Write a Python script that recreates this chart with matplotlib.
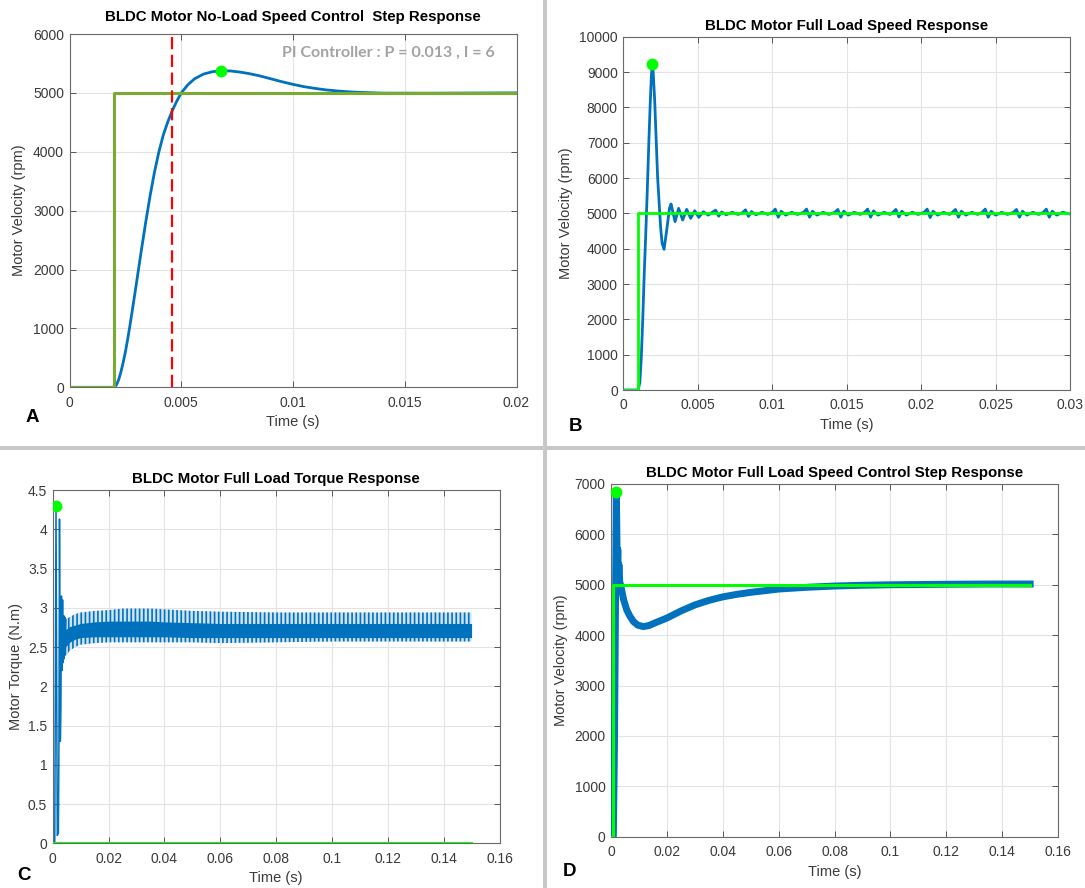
import matplotlib
matplotlib.use("Agg")
import matplotlib.pyplot as plt
from matplotlib.patches import Rectangle

plt.rcParams['font.family'] = ['Liberation Sans', 'DejaVu Sans']
plt.rcParams['hatch.linewidth'] = 1.2

# ---------------- data ----------------
# Panel A : no-load step response
ref_a_t = [0.0, 0.0020, 0.0020, 0.0200]
ref_a_v = [0, 0, 5000, 5000]
resp_a_t = [0.0, 0.0020, 0.0021, 0.0022, 0.0023, 0.0024, 0.0025, 0.0026, 0.0027, 0.0028,
            0.0030, 0.0032, 0.0034, 0.0036, 0.0038, 0.0040, 0.0042, 0.0044, 0.0046, 0.0048,
            0.0050, 0.0053, 0.0056, 0.0060, 0.0064, 0.0068, 0.0072, 0.0076, 0.0080, 0.0085,
            0.0090, 0.0095, 0.0100, 0.0105, 0.0110, 0.0115, 0.0120, 0.0125, 0.0130, 0.0140,
            0.0160, 0.0200]
resp_a_v = [0, 0, 40, 130, 260, 420, 600, 810, 1040, 1280,
            1780, 2290, 2780, 3240, 3650, 4000, 4290, 4510, 4700, 4860,
            5000, 5140, 5240, 5320, 5360, 5377, 5372, 5355, 5330, 5290,
            5240, 5190, 5145, 5105, 5075, 5050, 5032, 5018, 5008, 4996,
            4995, 5000]
peak_a = (0.0068, 5377)
rise_a_t = 0.00457
note_a = "PI Controller : P = 0.013 , I = 6"

# Panel B : full-load speed response
ref_b_t = [0.0, 0.001, 0.001, 0.030]
ref_b_v = [0, 0, 5000, 5000]
resp_b_t = [0.0, 0.00098, 0.0011, 0.0012, 0.0013, 0.0014, 0.0015, 0.0016, 0.0017, 0.0018,
            0.00188, 0.00194, 0.0020, 0.0021, 0.0023, 0.0025, 0.0026, 0.00273, 0.0029,
            0.0031, 0.0032, 0.00347, 0.00371, 0.00398, 0.00425, 0.00452, 0.00479, 0.00506,
            0.00537,
            0.0057, 0.0060, 0.0062, 0.0064, 0.0066, 0.0069, 0.0073, 0.0077,
            0.0080, 0.0082, 0.0084, 0.0086, 0.0089, 0.0093, 0.0097,
            0.0100, 0.0102, 0.0104, 0.0106, 0.0109, 0.0113, 0.0117,
            0.0121, 0.0123, 0.0125, 0.0127, 0.0130, 0.0134, 0.0138,
            0.0142, 0.0144, 0.0146, 0.0148, 0.0151, 0.0155, 0.0159,
            0.0162, 0.0164, 0.0166, 0.0168, 0.0171, 0.0175, 0.0179,
            0.0181, 0.0183, 0.0185, 0.0187, 0.0190, 0.0194, 0.0198,
            0.0202, 0.0204, 0.0206, 0.0208, 0.0211, 0.0215, 0.0219,
            0.0221, 0.0223, 0.0225, 0.0227, 0.0230, 0.0234, 0.0238,
            0.0241, 0.0243, 0.0245, 0.0247, 0.0250, 0.0254, 0.0258,
            0.0262, 0.0264, 0.0266, 0.0268, 0.0271, 0.0275, 0.0279,
            0.0282, 0.0284, 0.0286, 0.0288, 0.0291, 0.0295, 0.0300]
resp_b_v = [0, 0, 200, 900, 2000, 3300, 4400, 5600, 6900, 8100,
            8900, 9227, 9000, 8200, 6000, 4600, 4150, 3982, 4500,
            5150, 5264, 4765, 5141, 4811, 5113, 4858, 5075, 4887,
            5047,
            4950, 5040, 5090, 4920, 5040, 4960, 5030, 4970,
            5020, 5100, 4910, 5050, 4960, 5030, 4970,
            5030, 5120, 4890, 5060, 4950, 5030, 4970,
            5030, 5120, 4890, 5060, 4950, 5030, 4970,
            5030, 5110, 4890, 5060, 4950, 5030, 4970,
            5030, 5120, 4890, 5070, 4950, 5030, 4970,
            5030, 5110, 4900, 5060, 4950, 5030, 4970,
            5030, 5120, 4880, 5060, 4950, 5030, 4970,
            5030, 5110, 4890, 5060, 4950, 5030, 4970,
            5030, 5120, 4890, 5060, 4950, 5030, 4970,
            5030, 5110, 4890, 5060, 4950, 5030, 4970,
            5030, 5120, 4890, 5060, 4950, 5030, 4980]
peak_b = (0.00194, 9227)

# Panel C : full-load torque response
ref_c_t = [0.0, 0.15]
ref_c_v = [0, 0]
torque_start_t = [0.0, 0.0007, 0.00115, 0.0016, 0.0020, 0.0022, 0.0024, 0.0027, 0.0029,
                  0.0031, 0.0033, 0.0035, 0.0037, 0.0039, 0.0041, 0.0043, 0.0045, 0.0047]
torque_start_v = [0, 0, 4.3, 0.1, 0.13, 1.27, 4.13, 1.3, 1.72,
                  3.15, 2.2, 3.1, 2.3, 2.9, 2.35, 2.88, 2.4, 2.85]
ripple_t = [0.0045, 0.006, 0.008, 0.010, 0.015, 0.020, 0.025, 0.030, 0.035, 0.040,
            0.050, 0.060, 0.080, 0.100, 0.120, 0.140, 0.150]
ripple_max = [2.85, 2.88, 2.92, 2.94, 2.96, 2.97, 2.99, 2.99, 2.99, 2.98,
              2.96, 2.95, 2.94, 2.94, 2.94, 2.94, 2.94]
ripple_core_hi = [2.72, 2.76, 2.78, 2.80, 2.82, 2.83, 2.83, 2.83, 2.83, 2.82,
                  2.81, 2.80, 2.80, 2.80, 2.80, 2.80, 2.80]
ripple_core_lo = [2.50, 2.56, 2.60, 2.62, 2.63, 2.63, 2.63, 2.63, 2.63, 2.63,
                  2.62, 2.62, 2.62, 2.62, 2.62, 2.62, 2.62]
ripple_min = [2.38, 2.45, 2.50, 2.53, 2.55, 2.56, 2.56, 2.56, 2.56, 2.56,
              2.56, 2.55, 2.56, 2.57, 2.57, 2.57, 2.57]
peak_c = (0.00115, 4.3)

# Panel D : full-load speed control step response
ref_d_t = [0.0, 0.0008, 0.0008, 0.150]
ref_d_v = [0, 0, 5000, 5000]
resp_d_t = [0.0008, 0.0012, 0.0016, 0.00186, 0.0020, 0.0022, 0.0024, 0.0026, 0.0028, 0.0031,
            0.0034, 0.0038, 0.0045, 0.0056, 0.0068, 0.0080, 0.0095, 0.0115, 0.0135, 0.0160,
            0.0200, 0.0250, 0.0300, 0.0350, 0.0400, 0.0450, 0.0500, 0.0600, 0.0700, 0.0800,
            0.0900, 0.1000, 0.1100, 0.1200, 0.1350, 0.1500]
resp_d_v = [0, 1800, 4800, 6841, 6300, 5300, 5700, 5100, 5400, 5050,
            5000, 4890, 4700, 4500, 4370, 4270, 4200, 4170, 4190, 4250,
            4340, 4480, 4600, 4690, 4760, 4810, 4850, 4915, 4950, 4975,
            4990, 5000, 5005, 5010, 5015, 5015]
peak_d = (0.00186, 6841)

titles = ["BLDC Motor No-Load Speed Control  Step Response",
          "BLDC Motor Full Load Speed Response",
          "BLDC Motor Full Load Torque Response",
          "BLDC Motor Full Load Speed Control Step Response"]
xlabel = "Time (s)"
ylabels = ["Motor Velocity (rpm)", "Motor Velocity (rpm)", "Motor Torque (N.m)", "Motor Velocity (rpm)"]
panel_letters = ["A", "B", "C", "D"]

xt_a = [0, 0.005, 0.01, 0.015, 0.02]
xtl_a = ["0", "0.005", "0.01", "0.015", "0.02"]
yt_a = [0, 1000, 2000, 3000, 4000, 5000, 6000]
xt_b = [0, 0.005, 0.01, 0.015, 0.02, 0.025, 0.03]
xtl_b = ["0", "0.005", "0.01", "0.015", "0.02", "0.025", "0.03"]
yt_b = [0, 1000, 2000, 3000, 4000, 5000, 6000, 7000, 8000, 9000, 10000]
xt_cd = [0, 0.02, 0.04, 0.06, 0.08, 0.10, 0.12, 0.14, 0.16]
xtl_cd = ["0", "0.02", "0.04", "0.06", "0.08", "0.1", "0.12", "0.14", "0.16"]
yt_c = [0, 0.5, 1, 1.5, 2, 2.5, 3, 3.5, 4, 4.5]
ytl_c = ["0", "0.5", "1", "1.5", "2", "2.5", "3", "3.5", "4", "4.5"]
yt_d = [0, 1000, 2000, 3000, 4000, 5000, 6000, 7000]

# ---------------- styling ----------------
W, H = 1085, 888
BLUE = '#0072BD'
fig = plt.figure(figsize=(W / 100, H / 100), dpi=100)
fig.patch.set_facecolor('white')


def px_axes(l, r, t, b):
    return fig.add_axes([l / W, 1 - b / H, (r - l) / W, (b - t) / H])


def style(ax, xt, xtl, yt, ytl, xlim, ylim, title, ylabel, ty, ylx, xly):
    ax.set_xlim(*xlim)
    ax.set_ylim(*ylim)
    ax.set_xticks(xt)
    ax.set_xticklabels(xtl)
    ax.set_yticks(yt)
    ax.set_yticklabels(ytl if ytl is not None else [str(v) for v in yt])
    ax.tick_params(direction='in', length=4, width=0.6, top=True, right=True,
                   color='#404040', labelcolor='#3a3a3a', labelsize=10)
    ax.tick_params(axis='x', pad=6)
    ax.tick_params(axis='y', pad=4)
    ax.grid(True, color='#e3e3e3', lw=0.8)
    ax.set_axisbelow(True)
    for s in ax.spines.values():
        s.set_color('#6a6a6a')
        s.set_linewidth(0.8)
    ax.set_title(title, fontsize=10.8, fontweight='bold', y=ty, va='center', pad=0)
    ax.set_xlabel(xlabel, fontsize=10.5, color='#3a3a3a', va='center')
    ax.set_ylabel(ylabel, fontsize=10.5, color='#3a3a3a', va='center')
    ax.xaxis.set_label_coords(0.5, xly)
    ax.yaxis.set_label_coords(ylx, 0.5)


# Panel A
axA = px_axes(69.5, 516.5, 34, 387.3)
axA.plot(resp_a_t, resp_a_v, color=BLUE, lw=2, zorder=3, solid_joinstyle='round')
axA.plot(ref_a_t, ref_a_v, color='#77AC30', lw=2.2, zorder=4)
axA.axvline(rise_a_t, color='#FF0000', lw=1.6, dashes=(5.5, 2.5), zorder=5)
axA.plot(*peak_a, 'o', color='#00FF00', ms=7.5, zorder=6)
axA.text(0.00952, 5683, note_a, family='Lato', fontweight='bold', fontsize=11.5,
         color='#a3a3a3', ha='left', va='center')
style(axA, xt_a, xtl_a, yt_a, None, (0, 0.02), (0, 6000), titles[0], ylabels[0],
      1.049, -0.113, -0.099)

# Panel B
axB = px_axes(623.4, 1070.1, 36.7, 390)
axB.plot(resp_b_t, resp_b_v, color=BLUE, lw=2, zorder=3, solid_joinstyle='round')
axB.plot(ref_b_t, ref_b_v, color='#00FF00', lw=2, zorder=4)
axB.plot(*peak_b, 'o', color='#00FF00', ms=7.5, zorder=6)
style(axB, xt_b, xtl_b, yt_b, None, (0, 0.03), (0, 10000), titles[1], ylabels[1],
      1.030, -0.129, -0.099)

# Panel C
axC = px_axes(52.8, 499.5, 490, 843.3)
axC.fill_between(ripple_t, ripple_min, ripple_max, facecolor='#cfe3f3',
                 edgecolor=BLUE, hatch='||||', linewidth=0, zorder=2)
axC.fill_between(ripple_t, ripple_core_lo, ripple_core_hi, color=BLUE, linewidth=0, zorder=3)
axC.plot(torque_start_t, torque_start_v, color=BLUE, lw=1.1, zorder=3)
axC.plot(ref_c_t, ref_c_v, color='#00FF00', lw=1.5, zorder=4)
axC.plot(*peak_c, 'o', color='#00FF00', ms=7.5, zorder=6)
style(axC, xt_cd, xtl_cd, yt_c, ytl_c, (0, 0.16), (0, 4.5), titles[2], ylabels[2],
      1.031, -0.083, -0.098)

# Panel D
axD = px_axes(611.1, 1058.1, 484, 836.7)
axD.plot(resp_d_t, resp_d_v, color=BLUE, lw=5, zorder=3, solid_joinstyle='round')
axD.plot(ref_d_t, ref_d_v, color='#00FF00', lw=2.2, zorder=4)
axD.plot(*peak_d, 'o', color='#00FF00', ms=7.5, zorder=6)
style(axD, xt_cd, xtl_cd, yt_d, None, (0, 0.16), (0, 7000), titles[3], ylabels[3],
      1.032, -0.113, -0.099)

# panel letters
for letter, (x, y) in zip(panel_letters, [(32, 417), (575, 426), (23.5, 875), (569, 871)]):
    fig.text(x / W, 1 - y / H, letter, fontsize=13.5, fontweight='bold',
             ha='center', va='center', color='black')

# separator bars
fig.add_artist(Rectangle((543 / W, 0), 4 / W, 1, transform=fig.transFigure,
                         facecolor='#c8c8c8', edgecolor='none'))
fig.add_artist(Rectangle((0, 1 - 450 / H), 1, 4 / H, transform=fig.transFigure,
                         facecolor='#c8c8c8', edgecolor='none'))

fig.savefig('out.png', dpi=100)
